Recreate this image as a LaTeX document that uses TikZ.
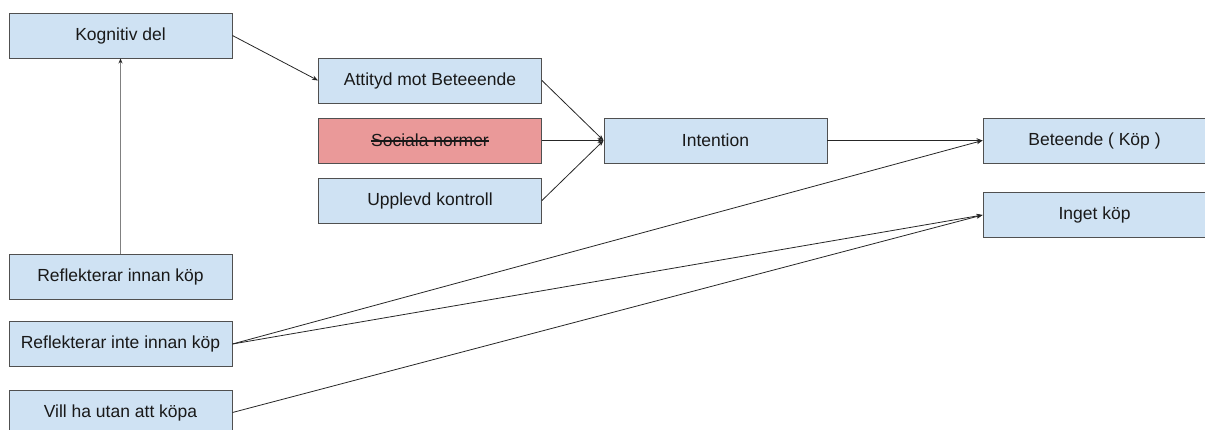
\documentclass[tikz,border=0pt]{standalone}
\usepackage{fontspec}
\setmainfont{Liberation Sans}
\usetikzlibrary{arrows.meta}
\definecolor{boxblue}{HTML}{CFE2F3}
\definecolor{boxred}{HTML}{EA9999}
\definecolor{edge}{HTML}{505050}
\newsavebox\mystrikebox
\newcommand\mystrike[1]{\sbox\mystrikebox{#1}\rlap{\usebox\mystrikebox}\rule[0.3em]{\wd\mystrikebox}{0.065em}}
\tikzset{
  box/.style={draw=edge, line width=0.9pt, fill=boxblue, minimum width=223pt, minimum height=45pt, inner sep=0pt, font=\fontsize{17.5}{20}\selectfont, text=black!90},
  redbox/.style={box, fill=boxred},
  conn/.style={draw=black!85, line width=0.8pt, -{Stealth[length=6pt,width=4.5pt]}},
  greyconn/.style={conn, draw=black!50, line width=1.5pt}
}
\begin{document}
\begin{tikzpicture}[x=1pt,y=1pt]
\useasboundingbox (0,0) rectangle (1205,-429);
\node[box] (kog) at (120.5,-35.5) {Kognitiv del};
\node[box] (att) at (430,-80.5) {Attityd mot Beteeende};
\node[redbox] (soc) at (430,-140.5) {\mystrike{Sociala normer}};
\node[box] (upp) at (430,-200.5) {Upplevd kontroll};
\node[box] (int) at (715.5,-140.5) {Intention};
\node[box] (bet) at (1094.5,-140.5) {Beteende ( Köp )};
\node[box] (ing) at (1094.5,-215) {Inget köp};
\node[box] (rin) at (120.5,-277) {Reflekterar innan köp};
\node[box] (rint) at (120.5,-344) {Reflekterar inte innan köp};
\node[box] (vill) at (120.5,-412.5) {Vill ha utan att köpa};
\draw[conn] (kog.east) -- (att.west);
\draw[conn] (att.east) -- (int.west);
\draw[conn] (soc.east) -- (int.west);
\draw[conn] (upp.east) -- (int.west);
\draw[conn] (int.east) -- (bet.west);
\draw[conn] (rint.east) -- (bet.west);
\draw[conn] (rint.east) -- (ing.west);
\draw[conn] (vill.east) -- (ing.west);
\draw[greyconn, -{Stealth[length=5pt,width=4pt,black!85]}] (rin.north) -- (kog.south);
\end{tikzpicture}
\end{document}
